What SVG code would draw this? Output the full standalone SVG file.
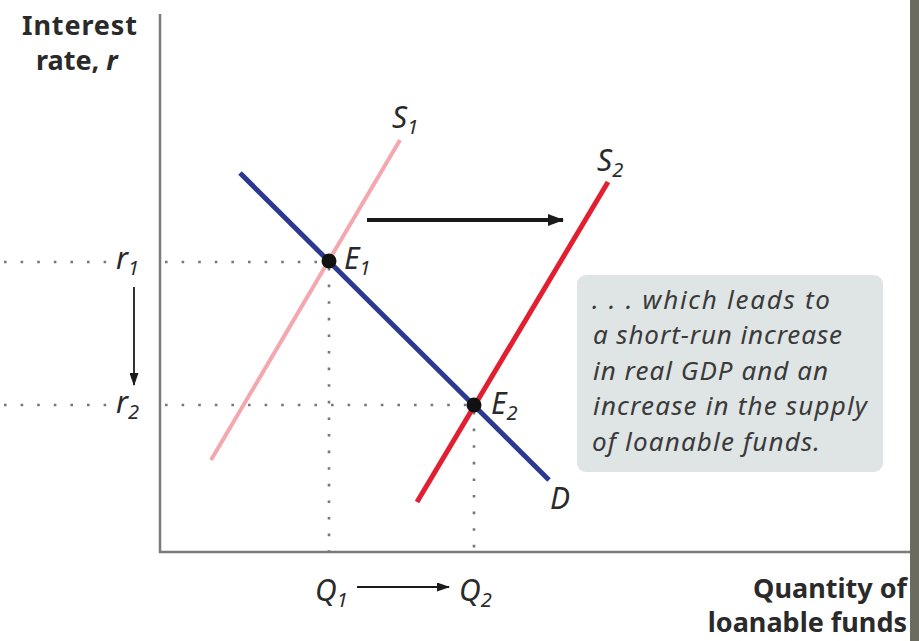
<svg xmlns="http://www.w3.org/2000/svg" width="919" height="641" viewBox="0 0 919 641">
<style>
.axis{stroke:#7a7a7a;stroke-width:2.5;fill:none}
.dot{stroke:#777;stroke-width:2.6;stroke-dasharray:2.6 14;fill:none}
.lbl{font-family:"Noto Sans","Liberation Sans",sans-serif;font-style:italic;font-size:30px;fill:#2a2a2a}
.sub{font-size:20px}
.ttl{font-family:"Noto Sans","Liberation Sans",sans-serif;font-weight:bold;font-size:27px;fill:#2a2a2a}
.note{font-family:"Noto Sans","Liberation Sans",sans-serif;font-style:italic;font-size:26px;fill:#3a3a3a}
</style>
<defs>
<marker id="ahBig" viewBox="0 0 16 12" refX="15" refY="6" markerWidth="16" markerHeight="12" orient="auto" markerUnits="userSpaceOnUse"><path d="M0,0 L16,6 L0,12 z" fill="#1a1a1a"/></marker>
<marker id="ahSmall" viewBox="0 0 13 9" refX="12" refY="4.5" markerWidth="13" markerHeight="9" orient="auto" markerUnits="userSpaceOnUse"><path d="M0,0 L13,4.5 L0,9 z" fill="#1a1a1a"/></marker>
</defs>
<rect x="0" y="0" width="919" height="641" fill="#ffffff"/>
<rect x="910" y="0" width="9" height="641" fill="#6b6b5f"/>

<g id="axes">
<path class="axis" d="M160,14 V552 H910"/>
<text class="ttl" x="22" y="35" textLength="115">Interest</text>
<text class="ttl" x="36" y="70">rate, <tspan font-style="italic">r</tspan></text>
<text class="ttl" x="907" y="598" text-anchor="end">Quantity of</text>
<text class="ttl" x="907" y="632" text-anchor="end">loanable funds</text>
</g>

<g id="guides">
<path class="dot" d="M4,262 H112"/>
<path class="dot" d="M165,262 H322"/>
<path class="dot" d="M4,405 H112"/>
<path class="dot" d="M165,405 H468"/>
<path class="dot" d="M329,268 V552"/>
<path class="dot" d="M474,412 V552"/>
</g>

<g id="S1">
<line x1="211" y1="460" x2="400" y2="140" stroke="#f4a7ae" stroke-width="4"/>
<text class="lbl" x="392" y="128">S<tspan class="sub" dy="6">1</tspan></text>
</g>
<g id="S2">
<line x1="417" y1="502" x2="608" y2="182" stroke="#e21f30" stroke-width="5"/>
<text class="lbl" x="597" y="171">S<tspan class="sub" dy="6">2</tspan></text>
</g>
<g id="D">
<line x1="240" y1="173" x2="549" y2="480" stroke="#2b3990" stroke-width="5"/>
<text class="lbl" x="550" y="509">D</text>
</g>

<g id="E1">
<circle cx="329" cy="261" r="7.5" fill="#111"/>
<text class="lbl" x="344" y="269">E<tspan class="sub" dy="6">1</tspan></text>
</g>
<g id="E2">
<circle cx="474" cy="405" r="7.5" fill="#111"/>
<text class="lbl" x="491" y="414">E<tspan class="sub" dy="6">2</tspan></text>
</g>

<g id="r-labels">
<text class="lbl" x="116" y="269">r<tspan class="sub" dy="6">1</tspan></text>
<text class="lbl" x="116" y="413">r<tspan class="sub" dy="6">2</tspan></text>
</g>
<g id="Q-labels">
<text class="lbl" x="315" y="601">Q<tspan class="sub" dy="6">1</tspan></text>
<text class="lbl" x="459" y="601">Q<tspan class="sub" dy="6">2</tspan></text>
</g>

<g id="connectors">
<line x1="367" y1="220" x2="563" y2="220" stroke="#1a1a1a" stroke-width="4" marker-end="url(#ahBig)"/>
<line x1="134" y1="287" x2="134" y2="385" stroke="#1a1a1a" stroke-width="1.8" marker-end="url(#ahSmall)"/>
<line x1="357" y1="587" x2="449" y2="587" stroke="#1a1a1a" stroke-width="2" marker-end="url(#ahSmall)"/>
</g>

<g id="note">
<rect x="577" y="275" width="306" height="197" rx="9" fill="#dfe4e4"/>
<text class="note" x="592" y="309" textLength="238">. . . which leads to</text>
<text class="note" x="593" y="344" textLength="249">a short-run increase</text>
<text class="note" x="593" y="380" textLength="235">in real GDP and an</text>
<text class="note" x="593" y="415" textLength="274">increase in the supply</text>
<text class="note" x="592" y="451" textLength="228">of loanable funds.</text>
</g>
</svg>
